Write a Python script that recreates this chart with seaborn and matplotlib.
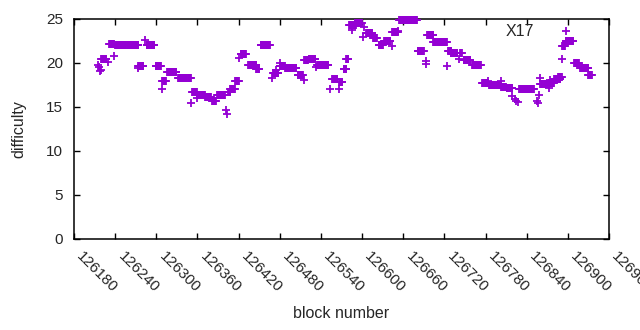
import numpy as np
import pandas as pd
import seaborn as sns
import matplotlib.pyplot as plt
import matplotlib.transforms as mtransforms

# runs of consecutive blocks with the same difficulty: first block, run length, difficulty
run_start = [126220, 126231, 126240, 126274, 126286, 126299, 126309, 126316, 126332,
             126352, 126360, 126371, 126381, 126389, 126405, 126408, 126415, 126423,
             126434, 126446, 126452, 126470, 126480, 126488, 126506, 126516, 126522,
             126535, 126556, 126567, 126573, 126577, 126581, 126589, 126606, 126616,
             126624, 126632, 126644, 126654, 126681, 126695, 126704, 126725, 126729,
             126743, 126748, 126760, 126775, 126785, 126803, 126811, 126829, 126860,
             126872, 126880, 126886, 126892, 126897, 126909, 126918, 126930]
run_len = [8, 8, 35, 8, 12, 9, 6, 14, 19,
           8, 12, 10, 7, 12, 4, 7, 6, 9,
           13, 5, 15, 9, 8, 17, 9, 6, 11,
           17, 9, 5, 5, 4, 11, 12, 10, 7,
           7, 10, 9, 27, 10, 10, 21, 6, 11,
           3, 11, 14, 10, 18, 8, 9, 22, 12,
           9, 10, 6, 5, 12, 8, 13, 6]
run_diff = [20.5, 22.2, 22.0, 19.7, 22.0, 19.7, 18.0, 19.0, 18.3,
            16.7, 16.4, 16.1, 15.7, 16.4, 16.7, 17.0, 18.0, 21.0,
            19.8, 19.3, 22.0, 18.9, 19.7, 19.4, 18.6, 20.3, 20.4,
            19.8, 18.2, 17.8, 19.3, 20.4, 24.3, 24.6, 23.4, 22.8,
            22.0, 22.5, 23.5, 24.9, 21.4, 23.2, 22.4, 21.4, 21.1,
            21.1, 20.3, 19.8, 17.7, 17.5, 17.3, 17.2, 17.1, 17.6,
            17.7, 18.2, 18.4, 21.9, 22.5, 20.0, 19.4, 18.6]

# isolated blocks
single_block = [126215, 126216, 126218, 126219, 126229, 126239, 126273, 126283, 126309,
                126351, 126360, 126402, 126403, 126420, 126468, 126474, 126480, 126515,
                126533, 126553, 126566, 126586, 126602, 126603, 126644, 126653, 126693,
                126693, 126724, 126741, 126783, 126802, 126819, 126823, 126825, 126828,
                126855, 126856, 126858, 126860, 126872, 126874, 126892]
single_diff = [19.8, 19.5, 19.1, 19.2, 20.1, 20.8, 19.4, 22.6, 17.0,
               15.5, 16.0, 14.7, 14.2, 20.6, 18.3, 19.2, 20.0, 18.1,
               19.5, 17.1, 17.0, 23.8, 23.0, 24.1, 21.9, 23.6, 20.2,
               19.9, 19.7, 20.5, 17.9, 17.9, 16.2, 15.9, 15.7, 15.6,
               15.7, 15.5, 16.4, 18.3, 17.2, 18.1, 20.5]

xticks = list(range(126180, 126961, 60))
yticks = [0, 5, 10, 15, 20, 25]

blocks = np.concatenate([np.arange(s, s + n) for s, n in zip(run_start, run_len)] + [single_block])
diffs = np.concatenate([np.repeat(run_diff, run_len), single_diff])
df = pd.DataFrame({'block': blocks, 'difficulty': diffs})

sns.set_style('ticks')
plt.rcParams['font.family'] = ['Liberation Sans', 'DejaVu Sans']

fig = plt.figure(figsize=(6.4, 3.3), dpi=100)
ax = fig.add_axes([74 / 640, 1 - 239 / 330, 535 / 640, 220 / 330])
sns.scatterplot(data=df, x='block', y='difficulty', marker='+', color='#9400d3',
                s=30, linewidth=1.3, clip_on=False, zorder=3, label='X17', ax=ax)

ax.set_xlim(126180, 126960)
ax.set_ylim(0, 25)
ax.set_xticks(xticks)
ax.set_yticks(yticks)
ax.tick_params(axis='y', labelsize=11, pad=8)
ax.tick_params(direction='in', length=4, width=1, top=True, right=True, color='black')
ax.tick_params(axis='x', pad=7)
ax.set_xticklabels([str(t) for t in xticks], rotation=-45, ha='left', va='top',
                   rotation_mode='anchor', fontsize=11)
# shift the rotated labels a little to the right, like gnuplot does
offset = mtransforms.ScaledTranslation(10 / 100, 0, fig.dpi_scale_trans)
for lbl in ax.get_xticklabels():
    lbl.set_transform(lbl.get_transform() + offset)
for sp in ax.spines.values():
    sp.set_linewidth(1.1)
    sp.set_color('black')
ax.set_xlabel('block number', fontsize=11.5, labelpad=8)
ax.set_ylabel('difficulty', fontsize=11.5, labelpad=14)

ax.legend(loc='center right', bbox_to_anchor=(0.962, 0.945), markerfirst=False,
          frameon=False, fontsize=11.5, handletextpad=1.05, borderaxespad=0)

fig.savefig('out.png', dpi=100)
